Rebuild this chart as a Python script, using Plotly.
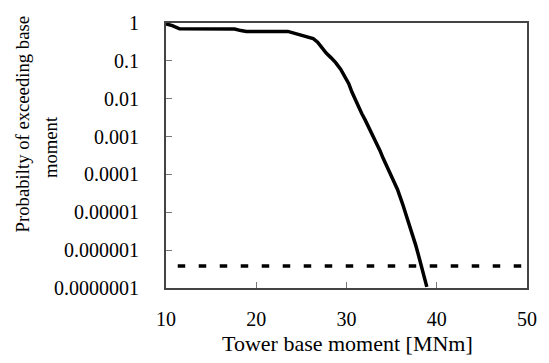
import plotly.graph_objects as go

# Exceedance probability curve
moment = [10, 10.7, 11.5, 17.6, 18.3, 18.9, 23.5, 24.1, 24.8, 25.6, 26.3, 26.8, 27.3,
          27.75, 28.3, 28.8, 29.35, 29.9, 30.25, 30.6, 31.0, 31.35, 31.7, 32.05, 32.4,
          32.8, 33.2, 33.7, 34.05, 34.45, 35.05, 35.65, 36.2, 36.75, 37.2, 37.65, 38.0,
          38.35, 38.9]
prob = [0.95, 0.85, 0.7, 0.69, 0.63, 0.6, 0.6, 0.55, 0.48, 0.43, 0.39, 0.31, 0.22,
        0.16, 0.12, 0.09, 0.06, 0.037, 0.025, 0.015, 0.009, 0.0057, 0.004, 0.0028, 0.0019,
        0.00115, 0.0007, 0.00043, 0.00027, 0.000165, 0.000082, 0.00004, 0.000017,
        0.0000068, 0.0000032, 0.0000014, 0.0000007, 0.00000035, 0.000000107]

# Threshold (dashed) line
threshold_x = [11.3, 50]
threshold_y = [3.8e-7, 3.8e-7]

y_tickvals = [1, 0.1, 0.01, 0.001, 0.0001, 0.00001, 0.000001, 0.0000001]
y_ticktext = ["1", "0.1", "0.01", "0.001", "0.0001", "0.00001", "0.000001", "0.0000001"]
x_tickvals = [10, 20, 30, 40, 50]

FONT = "'Liberation Serif', 'DejaVu Serif', serif"

fig = go.Figure()
fig.add_trace(go.Scatter(x=moment, y=prob, mode="lines",
                         line=dict(color="black", width=3.5), showlegend=False))
fig.add_trace(go.Scatter(x=threshold_x, y=threshold_y, mode="lines",
                         line=dict(color="black", width=3.5, dash="7.5px,13.5px"),
                         showlegend=False, cliponaxis=False))

fig.update_layout(
    width=549, height=363,
    margin=dict(l=166, r=13, t=16, b=75),
    paper_bgcolor="white", plot_bgcolor="white",
    font=dict(family=FONT, size=20, color="black"),
    xaxis=dict(range=[10, 50], tickvals=x_tickvals, ticks="inside", ticklen=6,
               tickcolor="#777", tickwidth=1, showgrid=False, zeroline=False,
               showline=True, linecolor="#444", linewidth=2, mirror=True,
               tickfont=dict(size=20, family=FONT), ticklabelstandoff=12),
    yaxis=dict(type="log", range=[-7, 0], tickvals=y_tickvals, ticktext=y_ticktext,
               ticks="inside", ticklen=6, tickcolor="#777", tickwidth=1,
               showgrid=False, zeroline=False, showline=True, linecolor="#444",
               linewidth=2, mirror=True, tickfont=dict(size=20, family=FONT),
               ticklabelstandoff=21),
    annotations=[
        dict(text="Tower base moment [MNm]", xref="paper", yref="paper",
             x=(352 - 166) / 370, y=(288 - 345) / 272, xanchor="center", yanchor="middle",
             showarrow=False, font=dict(size=22, family=FONT)),
        dict(text="Probabilty of exceeding base", xref="paper", yref="paper",
             x=(19 - 166) / 370, y=(288 - 120.5) / 272, xanchor="center", yanchor="middle",
             textangle=-90, showarrow=False, font=dict(size=18.7, family=FONT)),
        dict(text="moment", xref="paper", yref="paper",
             x=(47 - 166) / 370, y=(288 - 143.5) / 272, xanchor="center", yanchor="middle",
             textangle=-90, showarrow=False, font=dict(size=18.7, family=FONT)),
    ],
)

fig.write_html("out.html")
